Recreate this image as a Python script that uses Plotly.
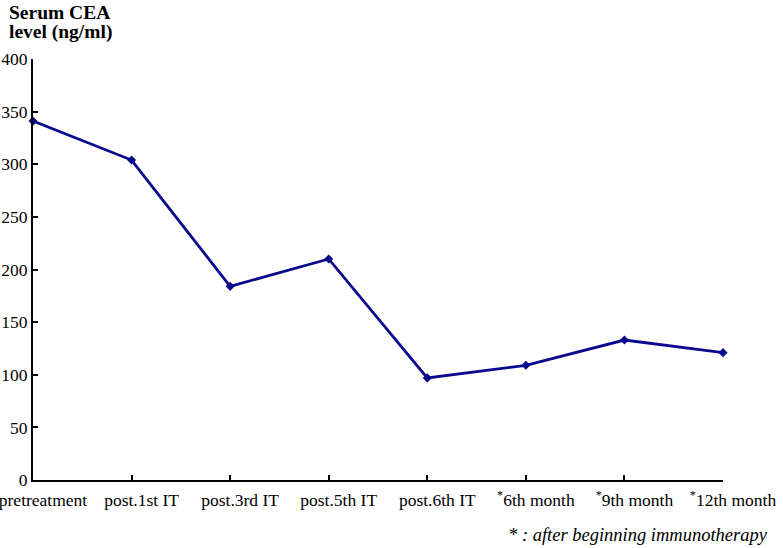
import plotly.graph_objects as go

star = "<sup><span style='color:black'>*</span></sup>"
categories = ["pretreatment", "post.1st IT", "post.3rd IT", "post.5th IT",
              "post.6th IT", star + "6th month", star + "9th month", star + "12th month"]
cea_values = [341, 304, 184, 210, 97, 109, 133, 121]
y_ticks = [0, 50, 100, 150, 200, 250, 300, 350, 400]

x_pos = list(range(len(categories)))
navy = "#0a0a8e"

W, H = 783, 548
l, r, t, b = 33, 60, 59, 68
pw, ph = W - l - r, H - t - b


def px_x(x):
    return (x - l) / pw


def px_y(y):
    return (H - b - y) / ph


fig = go.Figure()
fig.add_trace(go.Scatter(
    x=x_pos, y=cea_values, mode="lines+markers",
    line=dict(color=navy, width=2.8),
    marker=dict(symbol="diamond", size=7, color=navy),
    cliponaxis=False, showlegend=False,
))

fig.update_layout(
    width=W, height=H,
    margin=dict(l=l, r=r, t=t, b=b, autoexpand=False),
    paper_bgcolor="white", plot_bgcolor="white",
    font=dict(family="Liberation Serif", size=17.5, color="black"),
    xaxis=dict(range=[0, 7], tickvals=x_pos, ticktext=categories, automargin=False,
               showline=True, linecolor="black", linewidth=2,
               ticks="inside", ticklen=5, tickwidth=1.5, tickcolor="black",
               showgrid=False, zeroline=False, ticklabelshift=10,
               ticklabelstandoff=3, ticklabeloverflow="allow"),
    yaxis=dict(range=[0, 400], tickvals=y_ticks, automargin=False,
               showline=True, linecolor="black", linewidth=2,
               ticks="inside", ticklen=5, tickwidth=1.5, tickcolor="black",
               showgrid=False, zeroline=False, ticklabeloverflow="allow"),
    annotations=[
        dict(text="<b>Serum CEA</b>", xref="paper", yref="paper",
             x=px_x(7), y=px_y(12), xanchor="left", yanchor="middle",
             showarrow=False, font=dict(size=19.5)),
        dict(text="<b>level (ng/ml)</b>", xref="paper", yref="paper",
             x=px_x(7), y=px_y(32), xanchor="left", yanchor="middle",
             showarrow=False, font=dict(size=19.5)),
        dict(text="<i>* : after beginning immunotherapy</i>", xref="paper", yref="paper",
             x=px_x(770), y=px_y(535),
             showarrow=False, xanchor="right", yanchor="middle", font=dict(size=18.5)),
    ],
)

fig.write_html("out.html", config={"displayModeBar": False},
               post_script="document.body.style.margin='0';")
